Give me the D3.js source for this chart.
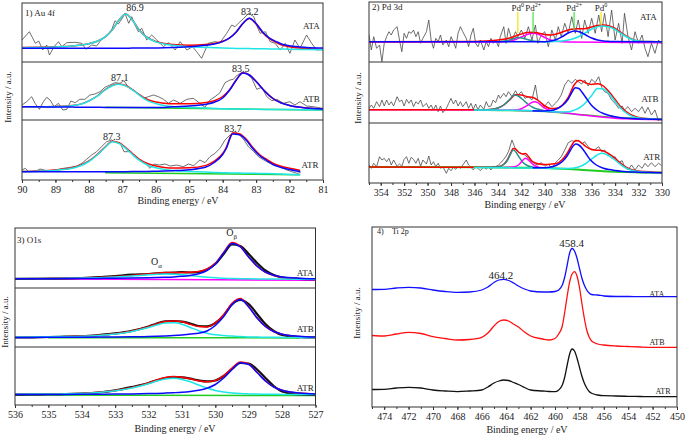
<!DOCTYPE html>
<html><head><meta charset="utf-8">
<script src="https://cdn.jsdelivr.net/npm/d3@7"></script>
<style>body{margin:0;background:#fff}svg{display:block}</style>
</head><body>
<svg id="chart" width="685" height="435"></svg>
<script>
// ---------------- DATA ----------------
const samples = ['ATA','ATB','ATR'];
const auTicks = [90,89,88,87,86,85,84,83,82,81];
const pdTicks = [354,352,350,348,346,344,342,340,338,336,334,332,330];
const o1sTicks = [536,535,534,533,532,531,530,529,528,527];
const tiTicks = [474,472,470,468,466,464,462,460,458,456,454,452,450];

// Au 4f raw
const auTopRawE = [90,89.78,89.6,89.5,89.38,89.26,89.18,89.04,88.91,88.81,88.66,88.41,88.21,88.09,87.92,87.77,87.62,87.47,87.32,87.22,87.12,87.02,86.92,86.81,86.72,86.62,86.52,86.42,86.27,86.12,85.97,85.77,85.62,85.42,85.27,85.07,84.9,84.78,84.63,84.43,84.23,84.08,83.88,83.73,83.63,83.53,83.37,83.22,83.07,82.97,82.88,82.72,82.58,82.43,82.28,82.13,81.99,81.84,81.69,81.49,81.34,81.19,81.01];
const auTopRawI = [22,30.3,18.7,21,12,17,7,15.3,20.3,15.3,19.3,19.7,18.7,12.7,17,16,22.7,26,32,41.3,38,42.7,48.7,38.7,45.3,37,30.3,33.7,22,27,22,15.3,19.3,12,20.3,12,15.3,10.3,3.7,18.7,20.3,19.3,28.7,37,35.3,38.7,43.7,48.7,45.3,35.3,28.7,30.3,20.3,18.7,12,18.7,8.7,22,13.7,27,18.7,12,12.7];
const auMidRawE = [90,89.86,89.71,89.61,89.48,89.36,89.26,89.16,89.04,88.91,88.78,88.66,88.54,88.41,88.27,88.12,87.97,87.82,87.67,87.52,87.37,87.22,87.07,86.95,86.82,86.67,86.52,86.37,86.22,86.07,85.92,85.77,85.62,85.47,85.27,85.07,84.88,84.68,84.53,84.38,84.23,84.08,83.93,83.78,83.68,83.56,83.43,83.28,83.13,82.98,82.83,82.68,82.53,82.38,82.19,81.99,81.84,81.69,81.49,81.29,81.01];
const auMidRawI = [15,18.3,23.3,16.7,10.7,18.3,22.7,20,13.3,16.7,10,10.7,19,17.3,20.7,20.7,25,26,28.3,32.7,35,37.3,36.7,39.3,32.7,30,26,21.7,23.3,25,23.3,20.7,16.7,20,16.7,20.7,21.7,16.7,12.7,20,23.3,27.3,37.3,40,40.7,45,47.3,46,41.7,30.7,32.7,23.3,19.3,20.7,16.7,18.3,15,18.3,14,13.3,11.7];
const auBotRawE = [90,89.9,89.8,89.56,89.46,89.26,89.01,88.76,88.56,88.36,88.21,88.07,87.92,87.77,87.62,87.47,87.32,87.19,87.07,86.95,86.77,86.62,86.47,86.32,86.17,86.05,85.89,85.72,85.57,85.37,85.18,85.02,84.87,84.68,84.53,84.38,84.23,84.08,83.93,83.78,83.63,83.49,83.36,83.23,83.07,82.93,82.77,82.62,82.47,82.32,82.19,82.08,81.93,81.78,81.68];
const auBotRawI = [10,11.7,8.3,9.3,11,9.3,10,11.7,12.7,14,16.7,20.7,25,28.3,33.3,38.3,40,37.3,37.3,28.3,28.3,24,20,16.7,11.7,16,15,16,14,15,13.3,16,14.3,20,17.3,23.3,26.7,31.7,40,45,48.3,45,40,33.3,28.3,23.3,20,17.3,16,13.3,11.7,10,8.3,6.7,7.3];
// Au 4f fits
const auTopFitE = [90,89.5,89,88.5,88,87.75,87.5,87.3,87.1,86.9,86.7,86.5,86.3,86,85.75,85.5,85,84.5,84.25,84,83.8,83.6,83.4,83.2,83,82.8,82.6,82.4,82.2,82,81.5,81];
const auTopCyan = [14.3,14.6,15.1,16.0,18.2,20.7,25.3,32.1,41.9,48,41.9,32.1,25.3,20.1,17.9,16.7,15.2,14.6,14.3,14.0,13.8,13.6,13.5,13.4,13.3,13.2,13.1,13,12.9,12.8,12.5,12.2];
const auTopBlue = [13.8,13.8,13.8,13.8,13.8,13.8,13.8,13.8,13.8,13.8,13.9,13.9,14,14.1,14.2,14.4,15.3,16.7,18.0,20.4,23.9,29.8,38.4,43.7,38.4,29.8,23.9,20.4,17.5,16.2,14.6,14.0];
const auTopRed = [14.4,14.7,15.2,16.1,18.3,20.8,25.4,32.2,42.0,48.1,42.1,32.3,25.6,20.5,18.4,17.4,16.8,17.6,18.6,20.7,24.0,29.7,38.2,43.4,38.0,29.3,23.3,19.7,16.7,15.3,13.4,12.5];
const auMidFitE = [90,89.5,89,88.5,88.25,88,87.75,87.5,87.3,87.1,86.9,86.7,86.5,86.25,86,85.75,85.5,85,84.5,84.25,84,83.8,83.6,83.4,83.2,83,82.75,82.5,82.25,82,81.5,81];
const auMidCyan = [13.3,13.2,13.5,14.3,15.7,19.0,23.8,30.5,34.3,35.7,34.1,30.1,25.0,19.4,16.5,14.5,13.5,12.6,12.0,11.6,11.2,11.1,11.0,10.9,10.8,10.7,10.6,10.55,10.45,10.4,10.2,10.0];
const auMidBlue = [13.3,13.2,13.0,12.9,12.85,12.8,12.7,12.6,12.6,12.5,12.5,12.45,12.4,12.4,12.5,12.6,13.2,14.0,15.8,17.8,22,29.5,39.5,47,45,38.5,29,21.5,17,14.5,12,11];
const auMidRed = [13.3,13.3,13.6,14.5,15.9,19.2,24,30.7,34.6,36,34.5,30.5,25.6,20.5,18,16.8,16.2,16.3,17.6,19.3,23.5,30,40,47.3,45.2,38.6,29.1,21.6,17.1,14.6,12.1,11.1];
const auMidGreenE = [87.5,81];
const auMidGreenI = [12.7,10];
const auBotFitE = [90,89.5,89,88.75,88.5,88.25,88,87.75,87.5,87.3,87.1,86.9,86.7,86.5,86.25,86,85.75,85.5,85,84.5,84.25,84,83.9,83.7,83.5,83.3,83.1,82.9,82.7,82.5,82.25,82,81.7];
const auBotCyan = [8.4,8.8,9.6,10.4,11.8,14.2,18.5,25,33,38.3,36.6,31.7,25.5,19.8,15,12.2,10.6,9.6,8.6,7.9,7.6,7.3,7.2,7.0,6.9,6.8,6.7,6.6,6.4,6.2,5.9,5.6,5.3];
const auBotBlue = [8.3,8.3,8.3,8.3,8.3,8.3,8.3,8.3,8.3,8.3,8.3,8.35,8.4,8.5,8.6,8.8,9.0,9.3,10.3,13,17.5,25.5,31,46,45.2,40,31.5,24.5,20,15.5,12.5,10.5,8.5];
const auBotRed = [8.5,9.0,10.0,10.9,12.3,14.8,19,25.5,33.5,38.8,37.2,32.5,26.5,21,16.5,14,12.6,12,12.2,14.6,18.8,26.5,32,47,46.3,41,32.5,25.5,21,16.8,13.7,11.8,9.8];
const auBotGreenE = [87.5,81.7];
const auBotGreenI = [7.3,5.3];
const auPeakText = ['86.9','83.2','87.1','83.5','87.3','83.7'];
const auPeakE = [86.62,83.19,87.08,83.46,87.32,83.69];
const auPeakV = [51,47.5,39.5,48.5,40.5,48.5];
const auPeakBand = [0,0,1,1,2,2];
const auSampleE = [81.35,81.35,81.39];
const auSampleV = [33.5,18.5,12.5];

// Pd 3d raw (shared energy grid)
const pdRawE = [355,354.8,354.6,354.35,354.1,353.9,353.7,353.5,353.3,353.1,352.9,352.6,352.4,352.2,352,351.8,351.6,351.4,351.2,351,350.8,350.6,350.4,350.1,349.9,349.7,349.5,349.3,349.1,348.9,348.7,348.4,348.2,348,347.8,347.6,347.4,347.2,347,346.7,346.5,346.3,346.1,345.9,345.7,345.5,345.2,345,344.8,344.6,344.4,344.2,343.95,343.8,343.5,343.3,343.1,342.8,342.5,342.3,342,341.7,341.4,341.1,340.8,340.6,340.3,340,339.7,339.4,339.1,338.85,338.6,338.3,338,337.7,337.4,337.15,336.85,336.6,336.3,336,335.7,335.4,335.15,334.9,334.6,334.3,334,333.7,333.4,333.2,332.9,332.6,332.3,332,331.7,331.45,331.2,330.9,330.6,330.3,330.1];
const pdTopRawI = [27,12,25.3,13.7,17,0.3,18.7,25.3,30.3,27,32,35.3,22,10.3,28.7,23.7,30.3,28.7,32,25.3,30.3,18.7,23.7,30.3,42,22,13.7,23.7,20.3,27,17,22,15.3,25.3,20.3,13.7,28.7,35.3,30.3,23.7,15.3,27,33.7,18.7,15.3,22,12,20.3,15.3,23.7,18.7,22,15.3,25.3,35.3,18.7,33.7,22,30.3,25.3,32,23.7,35.3,22,37,18.7,27,30.3,15.3,32,22,35.3,25.3,38.7,28.7,45.3,28.7,42,23.7,42,28.7,43.7,28.7,47,30.3,48.7,25.3,52,22,38.7,18.7,48.7,25.3,12,30.3,18.7,27,13.7,5.3,18.7,8.7,22,18.7];
const pdMidRawI = [14.7,18,14.7,21.3,16.3,23,17,23,18,21.3,17,26.3,21.3,23,17,23.7,19.7,23,16.3,21.3,19,23,16.3,19.7,14.7,18,13,18,11.3,17,10.3,14.7,19.7,24.7,19,23,17,21.3,16.3,21.3,14.7,19.7,13.7,19,13,18,13.7,21.3,16.3,17,23,20.3,28,24.7,29.7,26.3,31.3,26.3,32.3,28,31.3,24.7,26.3,23,38,23,19.7,17,21.3,16.3,19.7,23,28,38,43,39.7,43.7,41.3,39,43,37,43.7,40.3,46.3,35.7,31.3,29.7,23,19.7,14.7,17,13,16.3,11.3,14.7,11.3,16.3,9.7,15.7,8,13,2.3,4.7];
const pdBotRawI = [18,14.7,19.7,16.3,26.3,23,24.7,21.3,24.7,18,23,16.7,19,16.7,23.7,26.3,19.7,25.7,23.7,19.7,24.7,16.7,23,19,27,18,21.3,16.3,19.7,14.7,16.3,9.7,14.7,12.3,15.7,13.7,16.7,14.7,18,23,18,15.7,13,16.7,14.7,12.3,16.3,13.7,16.3,13,16.7,16.3,18,19.7,23.7,27,31.3,43,33.7,31.3,29.7,28,24.7,21.3,19,18,20.3,16.7,19,14.7,20.3,23,26.3,33,40.3,42.3,41.3,43,39,41.3,36.3,33,33.7,36.3,31.3,33,29,24.7,26.3,20.3,22.3,16.3,13,18,13,18,14.7,19.7,16.3,20.3,16.3,19.7,18];
// Pd 3d fits - ATA
const pdTopRedE = [355,346,345,344,343,342.5,342,341.5,341,340.5,340,339.5,339,338.5,338,337.5,337,336.5,336,335.5,335,334.5,334,333.5,333,332.5,332,331,330];
const pdTopRedI = [20.3,20.5,21,22,24,26,28,29.5,29.8,28.8,27.5,27,28,30,32,33,33.2,33.5,35,36.5,37,36,33.5,29.5,25.5,22.5,21,20.4,20.3];
const pdTopBlueE = [355,340,339.5,339,338.5,338,337.5,337,336.5,336,335.5,335,334.5,334,330];
const pdTopBlueI = [20.3,20.3,21,22.5,25.5,29,31,30,27,24,22,21,20.6,20.4,20.3];
const pdTopCyanE = [340,339,338.5,338,337.5,337,336.5,336,335.5,335.15,334.8,334.5,334,333.5,333,332.5,332,331,330];
const pdTopCyanI = [20.3,20.5,21,22,23.5,26,29.5,33,35.3,36,35.6,35,32.5,28.5,25,22.3,21,20.4,20.3];
const pdTopMagE = [355,344,343,342.5,342,341.5,341,340.5,340,339.5,339,338,330];
const pdTopMagI = [20.1,20.1,21,22.5,25,27.5,28.7,27.5,24.5,22,20.8,20,19.3];
const pdTopTealE = [344,343,342.5,342.3,342,341.5,341,340];
const pdTopTealI = [20.3,22,24,24.5,24,22.5,21,20.3];
// ATB
const pdMidBaseE = [355,345,343,341,340,339,338,337,336,335,334,333,332,330];
const pdMidBaseI = [13.3,13,12.8,12.3,11.8,11,9.8,8.3,7,5.8,4.8,4.2,3.8,3.4];
const pdMidGreenE = [345,340,337,334,330];
const pdMidGreenI = [12.8,11.5,8.5,5.5,4.2];
const pdMidMagE = [343,342.5,342,341.6,341.2,340.9,340.6,340.3,340,339.5,339];
const pdMidMagI = [12.8,13.1,14.3,16.8,19.8,21.3,20.3,17.5,14.8,12.2,11.1];
const pdMidTealE = [346,345,344.5,344,343.5,343,342.6,342.2,341.8,341.4,341,340.5,340,339.5,339];
const pdMidTealI = [13.1,13.1,13.7,15,18,23.5,28,26.5,22.5,18.5,15.5,13.5,12.3,11.5,11];
const pdMidBlueE = [341,340,339.5,339,338.5,338,337.7,337.4,337.1,336.8,336.5,336,335.5,335,334.5,334,333.5,333,332,331,330];
const pdMidBlueI = [12.3,12,12.4,14,17.5,24,30.5,35.3,34.5,30.5,25.5,17.5,12.5,9.5,7.5,6.2,5.3,4.7,4.1,3.8,3.5];
const pdMidCyanE = [346,343,341,340,339,338,337.5,337,336.5,336,335.5,335,334.5,334,333.5,333,332.5,332,331,330];
const pdMidCyanI = [13,12.7,12.2,11.7,11,11.2,12.8,15.5,20.5,27.5,34.5,34,29,21.5,14.5,9.5,6.5,5,3.9,3.5];
const pdMidRedE = [355,345,344.5,344,343.5,343,342.5,342,341.5,341,340.5,340,339.5,339,338.5,338,337.5,337,336.5,336,335.5,335,334.5,334,333.5,333,332.5,332,331,330];
const pdMidRedI = [13.3,13.2,13.7,15,18,23,28.3,28,26.3,25.5,22,17,14.5,14.8,18,25.5,38,42.8,40,38.5,39.3,37,31,23.5,16,11,7.5,5.5,4,3.5];
// ATR
const pdBotBaseE = [355,345,343,341,340,339,338,337,336,335,334,333,332,330];
const pdBotBaseI = [16,15.7,15.5,15.2,15,14.6,14,13.2,12.4,11.8,11.3,10.9,10.6,10.3];
const pdBotTealE = [345,344,343.5,343.2,342.9,342.7,342.5,342.2,341.9,341.5,341,340.5,340];
const pdBotTealI = [15.7,16,18.5,22.5,29.5,33,31.5,26,21,17.5,15.8,15.2,15];
const pdBotMagE = [343.5,343,342.5,342.2,341.9,341.65,341.4,341.1,340.8,340.5,340];
const pdBotMagI = [15.5,15.7,16.5,18.5,22.5,24.7,23,19.5,17,15.6,15];
const pdBotBlueE = [341,340,339.5,339,338.5,338.1,337.8,337.55,337.35,337.1,336.8,336.5,336.1,335.6,335,334.5,334,333.5,333,332.5,332,331,330];
const pdBotBlueI = [15.2,15.3,16,17.8,21.5,27,33,37.5,39,38,34.5,29.5,23,18,14.8,13.4,12.5,11.8,11.3,11,10.8,10.5,10.3];
const pdBotCyanE = [346,343,341,339,338,337.5,337,336.5,336,335.6,335.15,334.7,334.3,333.8,333.3,332.8,332.3,331.5,330.5,330];
const pdBotCyanI = [15.5,15.2,14.9,14.6,14.5,15,16.5,19.5,24,27.5,29.7,28.3,25.5,21,16.5,13.5,12,11,10.5,10.3];
const pdBotRedE = [355,345,344,343.5,343.2,342.9,342.7,342.5,342.2,341.9,341.65,341.4,341.1,340.8,340.5,340,339.5,339,338.5,338.1,337.8,337.55,337.35,337.1,336.8,336.5,336.1,335.6,335.15,334.7,334.3,333.8,333.3,332.8,332.3,331.5,330.5,330];
const pdBotRedI = [16,15.8,16.3,18.8,23,30.3,34.5,34,30.5,29,29.5,26.5,22,20,19,18.5,18.8,19.5,23.5,29.5,35.8,40.6,42.5,42,39.5,36.5,34,32.8,32.5,30.3,27.3,22.5,17.6,14.4,12.6,11.4,10.7,10.5];
// Pd markers
const pdMarkE = [342.3,341,337.5,335.2];
const pdMarkSup = ['0','2+','2+','0'];
const pdMarkLow = [28.7,29.5,32,37];
const pdMarkKind = ['y','g','g','y'];
const pdSampleE = [331.17,331.02,330.88];
const pdSampleV = [42.5,21.2,22.8];

// O 1s
const o1sE = [536,535.5,535,534.5,534,533.5,533,532.5,532,531.75,531.5,531.25,531,530.75,530.5,530.25,530,529.75,529.5,529.25,529,528.75,528.5,528.25,528,527.5,527];
const o1sTopRaw = [9,9.2,9.4,9.5,10,10.8,12,13.3,14,14.6,15.2,15.3,15.8,15.5,16,18.5,24,34,43.5,42,34,25,17.5,13,10.5,9.2,8.8];
const o1sTopCyan = [9.5,9.5,9.6,9.7,9.9,10.3,11,12,13.2,13.7,14,13.8,13.2,12.4,11.5,10.8,10.2,9.8,9.5,9.3,9.2,9.1,9,9,8.9,8.8,8.7];
const o1sTopBlue = [9.3,9.3,9.3,9.4,9.5,9.6,9.7,9.9,10.2,10.4,10.7,11.1,11.7,12.6,14.2,17.5,24,35,44.5,41,31,22,16,12.8,11,9.8,9.3];
const o1sTopRed = [9.5,9.5,9.6,9.8,10.1,10.6,11.4,12.6,14.1,14.8,15.4,15.6,15.6,15.7,16.4,19,24.9,35.5,45.5,41.5,31,21.8,15.7,12.5,10.6,9.3,8.7];
const o1sMidRaw = [9.5,9.7,10,10.3,10.8,12,13.6,16.2,20.5,23.5,25.6,26,25.4,23.5,21,20.6,24,31.5,42.5,47,43,33,23,16,12,9.8,9.5];
const o1sMidCyan = [10,10.1,10.2,10.4,10.8,11.6,13,15.6,19.5,22,24,24.2,22.8,19.5,16.3,13.8,12.2,11.4,10.9,10.4,10.1,9.9,9.8,9.7,9.6,9.5,9.4];
const o1sMidBlue = [9.6,9.6,9.7,9.7,9.8,9.9,10,10.2,10.5,10.8,11.1,11.5,12.1,13,13.8,16,21.5,30.5,42.5,47.5,40,29,20.5,15.5,12.8,10.7,9.9];
const o1sMidRed = [9.9,10,10.2,10.4,10.9,11.8,13.3,16.1,20.3,23.1,25.4,26,25.2,22.6,20.4,20.1,24.2,32.2,43.7,48.5,40.4,29.2,20.6,15.5,12.7,10.5,9.6];
const o1sBotRaw = [10.3,10.5,10.8,11,11.5,12.5,14.6,18,22,24.8,27,27.8,27.6,26.4,24.6,23.6,24.5,29,36,42,41.5,35.5,27,19,13.5,10.5,10.2];
const o1sBotCyan = [10.8,10.9,11,11.2,11.7,12.6,14.2,17,21.2,24,26.1,26.7,25.6,23.2,20,17,14.6,13,12,11.4,11.1,10.9,10.8,10.7,10.6,10.5,10.4];
const o1sBotBlue = [10.5,10.5,10.6,10.6,10.7,10.8,10.9,11.1,11.4,11.6,11.9,12.3,12.8,13.6,14.8,16.8,20.5,27,35.5,42.3,40.5,32.5,24,18,14.8,12,11];
const o1sBotRed = [10.7,10.8,11,11.2,11.8,12.8,14.5,17.5,22,25,27.4,28.4,27.8,26.2,24.2,23.2,24.5,29.4,36.9,43.1,41,32.8,24.2,18.1,14.8,11.9,10.8];
const o1sTopMagE = [536,530,527];
const o1sTopMagI = [9.2,8.3,7.8];
const o1sMidGreenE = [535,527.5];
const o1sMidGreenI = [9.3,9.1];
const o1sBotGreenE = [536,527];
const o1sBotGreenI = [9.9,9.5];
const o1sPeakE = [529.51,531.76];
const o1sPeakV = [52,23.3];
const o1sPeakSub = ['\u03b2','\u03b1'];
const o1sSampleE = [527.31,527.31,527.31];
const o1sSampleV = [12.3,14.7,14.3];

// Ti 2p
const tiE = [475,474,473,472,471,470,469,468,467,466,465.5,465,464.6,464.2,463.8,463.4,463,462.5,462,461,460.5,460,459.7,459.4,459.2,459,458.8,458.6,458.4,458.2,458,457.8,457.6,457.4,457.2,457,456.5,456,455,454,453,452,451,450];
const tiATA = [117.5,117.7,119,119.7,119,117,115.5,114.7,115,117,120,124.5,127,127.7,126.5,124,121,118,116,115,115,115.5,117,122,130,142,154,158.5,156,149,139,129,122,117,114,112.5,112,111,110.5,110.5,110.3,110.3,110.3,110.3];
const tiATB = [71.5,71,73,74.7,73.5,70.3,68.5,67,67.5,69.7,74,81,85.5,87,86,83,80,75,71,68,67,68.5,73,81,95,111,125,133,135.3,131,120,104,89,77,70,66,63,62,61,60.5,60,59.7,59.7,59.7];
const tiATR = [17.5,17.7,19,19.7,19,17,16,15.3,16,17,20,24,26,27,26.5,24.5,22.5,19.5,17,16,15.5,15.3,17,22,30,42,53,58,56,49,40,31,24,19,15.5,13.7,12,11.3,11,10.7,10.5,10.3,10.3,10.3];
const tiPeakText = ['458.4','464.2'];
const tiPeakE = [458.63,464.43];
const tiPeakV = [160.5,128.5];
const tiSampleE = [451.66,451.64,451.15];
const tiSampleV = [110,61.7,13.3];

// ---------------- DRAWING ----------------
const SERIF = '"Liberation Serif","Times New Roman",serif';
const COL = {red:'#ff0000', blue:'#0a0aff', cyan:'#1ee6e6', green:'#20cc20', magenta:'#ff00ff',
             teal:'#2b8f8f', yellow:'#f2e600', mgreen:'#3ee83e', raw:'#4a4a4a', frame:'#333'};
const svg = d3.select('#chart');
const defs = svg.append('defs');

function setupPanel(p) {
  const x = d3.scaleLinear().domain(p.domain).range([p.left, p.right]);
  const g = svg.append('g');
  defs.append('clipPath').attr('id', 'clip' + p.id).append('rect')
    .attr('x', p.left).attr('y', p.top).attr('width', p.right - p.left).attr('height', p.bottom - p.top);
  const plot = g.append('g').attr('clip-path', `url(#clip${p.id})`);
  const edges = [p.top, ...p.dividers, p.bottom];
  const ys = [];
  for (let i = 0; i < edges.length - 1; i++) {
    ys.push(d3.scaleLinear().domain([0, edges[i+1] - edges[i]]).range([edges[i+1], edges[i]]));
  }
  const over = g.append('g');
  over.append('rect').attr('x', p.left).attr('y', p.top).attr('width', p.right - p.left)
    .attr('height', p.bottom - p.top).attr('fill', 'none').attr('stroke', COL.frame).attr('stroke-width', 1);
  p.dividers.forEach(d => over.append('line').attr('x1', p.left).attr('x2', p.right)
    .attr('y1', d).attr('y2', d).attr('stroke', COL.frame).attr('stroke-width', 1));
  const axG = over.append('g').attr('transform', `translate(0,${p.bottom})`);
  axG.append('g').call(d3.axisBottom(x).tickValues(p.minor).tickSize(2).tickFormat(''))
    .call(a => a.select('.domain').remove());
  axG.append('g').call(d3.axisBottom(x).tickValues(p.ticks).tickSize(3).tickPadding(3).tickFormat(d3.format('d')))
    .call(a => a.select('.domain').remove());
  axG.selectAll('line').attr('stroke', COL.frame);
  axG.selectAll('text').attr('font-family', SERIF).attr('font-size', 10).attr('fill', '#222');
  over.append('text').attr('x', p.titleX).attr('y', p.titleY).attr('text-anchor', 'middle')
    .attr('font-family', SERIF).attr('font-size', 10).attr('fill', '#222').text(p.title);
  over.append('text').attr('transform', `translate(${p.ylabX},${p.ylabY}) rotate(-90)`)
    .attr('text-anchor', 'middle').attr('font-family', SERIF).attr('font-size', 9).attr('fill', '#222')
    .text('Intensity / a.u.');
  return {x, ys, plot, over};
}

function drawLine(P, band, E, I, color, width, curve) {
  const y = P.ys[band];
  const pts = E.map((e, i) => [P.x(e), y(I[i])]);
  P.plot.append('path').attr('d', d3.line().curve(curve || d3.curveMonotoneX)(pts))
    .attr('fill', 'none').attr('stroke', color).attr('stroke-width', width)
    .attr('stroke-linejoin', 'round').attr('stroke-linecap', 'round');
}
function text(P, band, e, v, str, size, anchor) {
  return P.over.append('text').attr('x', P.x(e)).attr('y', P.ys[band](v))
    .attr('text-anchor', anchor || 'middle').attr('font-family', SERIF).attr('font-size', size)
    .attr('fill', '#222').text(str);
}
const minorRange = (a, b, s) => d3.range(a, b + s / 2, s);

// ---- Panel 1: Au 4f ----
const P1 = setupPanel({id: 1, domain: [90, 81], left: 22, right: 323, top: 3, dividers: [62, 120], bottom: 180,
  ticks: auTicks, minor: minorRange(81, 90, 0.5), title: 'Binding energy /  eV', titleX: 178, titleY: 203.5,
  ylabX: 11, ylabY: 97});
[[auTopRawE, auTopRawI], [auMidRawE, auMidRawI], [auBotRawE, auBotRawI]].forEach((r, b) =>
  drawLine(P1, b, r[0], r[1], COL.raw, 0.8, d3.curveLinear));
drawLine(P1, 1, auMidGreenE, auMidGreenI, COL.green, 1.5);
drawLine(P1, 2, auBotGreenE, auBotGreenI, COL.green, 1.5);
[[auTopFitE, auTopRed, auTopCyan, auTopBlue], [auMidFitE, auMidRed, auMidCyan, auMidBlue],
 [auBotFitE, auBotRed, auBotCyan, auBotBlue]].forEach((f, b) => {
  drawLine(P1, b, f[0], f[1], COL.red, 1.5);
  drawLine(P1, b, f[0], f[2], COL.cyan, 1.5);
  drawLine(P1, b, f[0], f[3], COL.blue, 1.5);
});
auPeakText.forEach((t, i) => text(P1, auPeakBand[i], auPeakE[i], auPeakV[i], t, 10));
samples.forEach((s, i) => text(P1, i, auSampleE[i], auSampleV[i], s, 9));
P1.over.append('text').attr('x', 25).attr('y', 16).attr('font-family', SERIF).attr('font-size', 9)
  .attr('fill', '#222').text('1) Au 4f');

// ---- Panel 2: Pd 3d ----
const P2 = setupPanel({id: 2, domain: [355, 330], left: 369, right: 662, top: 2, dividers: [62, 123], bottom: 183,
  ticks: pdTicks, minor: minorRange(330, 355, 1), title: 'Binding energy / eV', titleX: 525, titleY: 208,
  ylabX: 361, ylabY: 98});
[pdTopRawI, pdMidRawI, pdBotRawI].forEach((r, b) => drawLine(P2, b, pdRawE, r, COL.raw, 0.8, d3.curveLinear));
// ATA
drawLine(P2, 0, pdTopMagE, pdTopMagI, COL.magenta, 1.5);
drawLine(P2, 0, pdTopTealE, pdTopTealI, COL.teal, 1.5);
drawLine(P2, 0, pdTopRedE, pdTopRedI, COL.red, 1.5);
drawLine(P2, 0, pdTopCyanE, pdTopCyanI, COL.cyan, 1.5);
drawLine(P2, 0, pdTopBlueE, pdTopBlueI, COL.blue, 1.5);
// ATB
drawLine(P2, 1, pdMidGreenE, pdMidGreenI, COL.green, 1.5);
drawLine(P2, 1, pdMidBaseE, pdMidBaseI, COL.magenta, 1.5);
drawLine(P2, 1, pdMidRedE, pdMidRedI, COL.red, 1.5);
drawLine(P2, 1, pdMidTealE, pdMidTealI, COL.teal, 1.5);
drawLine(P2, 1, pdMidMagE, pdMidMagI, COL.magenta, 1.5);
drawLine(P2, 1, pdMidCyanE, pdMidCyanI, COL.cyan, 1.5);
drawLine(P2, 1, pdMidBlueE, pdMidBlueI, COL.blue, 1.5);
// ATR
drawLine(P2, 2, pdBotBaseE, pdBotBaseI, COL.green, 2);
drawLine(P2, 2, pdBotRedE, pdBotRedI, COL.red, 1.5);
drawLine(P2, 2, pdBotTealE, pdBotTealI, COL.teal, 1.5);
drawLine(P2, 2, pdBotMagE, pdBotMagI, COL.magenta, 1.5);
drawLine(P2, 2, pdBotCyanE, pdBotCyanI, COL.cyan, 1.5);
drawLine(P2, 2, pdBotBlueE, pdBotBlueI, COL.blue, 1.5);
// markers
pdMarkE.forEach((e, i) => {
  const y = P2.ys[0];
  P2.over.append('line').attr('x1', P2.x(e)).attr('x2', P2.x(e)).attr('y1', y(50)).attr('y2', y(pdMarkLow[i]))
    .attr('stroke', pdMarkKind[i] === 'y' ? COL.yellow : COL.mgreen).attr('stroke-width', 1.2);
  const t = text(P2, 0, e, 51, '', 9);
  t.append('tspan').text('Pd');
  t.append('tspan').attr('font-size', 6).attr('dy', -4).text(pdMarkSup[i]);
});
samples.forEach((s, i) => text(P2, i, pdSampleE[i], pdSampleV[i], s, 9));
P2.over.append('text').attr('x', 372).attr('y', 10).attr('font-family', SERIF).attr('font-size', 9)
  .attr('fill', '#222').text('2) Pd 3d');

// ---- Panel 3: O 1s ----
const P3 = setupPanel({id: 3, domain: [536, 527], left: 15, right: 315.5, top: 228, dividers: [288, 347], bottom: 405,
  ticks: o1sTicks, minor: minorRange(527, 536, 0.5), title: 'Binding energy / eV', titleX: 175, titleY: 432,
  ylabX: 8, ylabY: 322});
drawLine(P3, 0, o1sTopMagE, o1sTopMagI, COL.magenta, 1.5);
drawLine(P3, 1, o1sMidGreenE, o1sMidGreenI, COL.green, 1.5);
drawLine(P3, 2, o1sBotGreenE, o1sBotGreenI, COL.green, 1.5);
[[o1sTopRaw, o1sTopRed, o1sTopCyan, o1sTopBlue], [o1sMidRaw, o1sMidRed, o1sMidCyan, o1sMidBlue],
 [o1sBotRaw, o1sBotRed, o1sBotCyan, o1sBotBlue]].forEach((f, b) => {
  drawLine(P3, b, o1sE, f[0], '#111', 2.2);
  drawLine(P3, b, o1sE, f[1], COL.red, 1.5);
  drawLine(P3, b, o1sE, f[2], COL.cyan, 1.5);
  drawLine(P3, b, o1sE, f[3], COL.blue, 1.5);
});
o1sPeakE.forEach((e, i) => {
  const t = text(P3, i === 0 ? 0 : 0, e, o1sPeakV[i], '', 10);
  t.append('tspan').text('O');
  t.append('tspan').attr('font-size', 7).attr('dy', 3).text(o1sPeakSub[i]);
});
samples.forEach((s, i) => text(P3, i, o1sSampleE[i], o1sSampleV[i], s, 9));
P3.over.append('text').attr('x', 17).attr('y', 242.5).attr('font-family', SERIF).attr('font-size', 9)
  .attr('fill', '#222').text('3) O1s');

// ---- Panel 4: Ti 2p ----
const P4 = setupPanel({id: 4, domain: [475, 450], left: 372, right: 677, top: 227, dividers: [], bottom: 407,
  ticks: tiTicks, minor: minorRange(450, 475, 1), title: 'Binding energy / eV', titleX: 527, titleY: 433,
  ylabX: 359.5, ylabY: 313});
drawLine(P4, 0, tiE, tiATA, '#1010ff', 1.3);
drawLine(P4, 0, tiE, tiATB, '#ff1010', 1.3);
drawLine(P4, 0, tiE, tiATR, '#111', 1.3);
tiPeakText.forEach((t, i) => text(P4, 0, tiPeakE[i], tiPeakV[i], t, 11));
samples.forEach((s, i) => text(P4, 0, tiSampleE[i], tiSampleV[i], s, 8));
P4.over.append('text').attr('x', 377).attr('y', 234).attr('font-family', SERIF).attr('font-size', 8)
  .attr('fill', '#222').text('4)');
P4.over.append('text').attr('x', 392).attr('y', 234).attr('font-family', SERIF).attr('font-size', 8)
  .attr('fill', '#222').text('Ti 2p');
</script>
</body></html>
